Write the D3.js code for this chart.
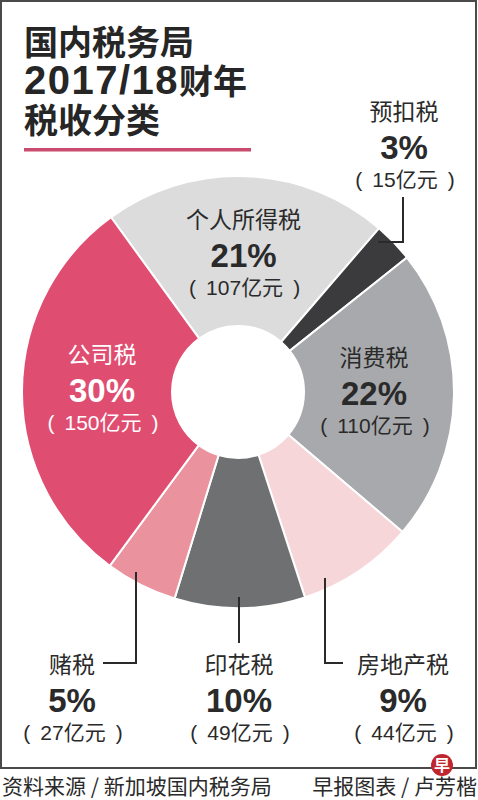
<!DOCTYPE html>
<html><head><meta charset="utf-8">
<script src="https://cdn.jsdelivr.net/npm/d3@7"></script>
<style>
html,body{margin:0;padding:0;background:#fff;}
svg{display:block;}
</style></head>
<body>
<svg id="chart" width="478" height="800"></svg>
<script>
// ---- data ----
const titleLines = [["国内税务局"], ["2017/18", "财年"], ["税收分类"]];
const categories = ["个人所得税", "预扣税", "消费税", "房地产税", "印花税", "赌税", "公司税"];
const percents = [21, 3, 22, 9, 10, 5, 30];
const amounts = [107, 15, 110, 44, 49, 27, 150];
const unitText = "亿元";
const sourceText = "资料来源 / 新加坡国内税务局";
const creditText = "早报图表 / 卢芳楷";

// ---- styles / layout ----
const colors = ["#dcdcdd", "#3b3b3d", "#a8a9ac", "#f6d6d9", "#6f7072", "#ea939e", "#df4d71"];
const textColors = ["#2a2a2a", "#2a2a2a", "#2a2a2a", "#2a2a2a", "#2a2a2a", "#2a2a2a", "#ffffff"];
// external label anchors (label centre x, name baseline y) and leader polylines
const external = {
  "预扣税": {x: 404, y: 120, line: [[403, 197], [403, 242], [378, 242]]},
  "房地产税": {x: 403, y: 673, line: [[325, 578], [325, 663], [343, 663]]},
  "印花税": {x: 239, y: 673, line: [[239, 597], [239, 643]]},
  "赌税": {x: 72, y: 673, line: [[136, 572], [136, 663], [103, 663]]}
};

const cx = 238, cy = 392, rOuter = 216, rInner = 66, rLabel = 136;
const start = -36 * Math.PI / 180;

const svg = d3.select("#chart");
const CJK = "'Noto Sans CJK SC', 'Noto Sans', sans-serif";
const LAT = "'Liberation Sans', Arial, 'Noto Sans CJK SC', sans-serif";

// frame
svg.append("rect").attr("x", 1).attr("y", 1).attr("width", 475).attr("height", 767)
  .attr("fill", "none").attr("stroke", "#4a4a4a").attr("stroke-width", 2);

// title
const tg = svg.append("g").attr("fill", "#262626").attr("font-weight", 700);
titleLines.forEach((parts, i) => {
  const t = tg.append("text").attr("x", 24).attr("y", 55 + i * 39);
  parts.forEach(p => {
    const isLatin = /^[0-9\/]+$/.test(p);
    t.append("tspan")
      .attr("font-family", isLatin ? LAT : CJK)
      .attr("font-size", isLatin ? 40 : 34)
      .attr("letter-spacing", isLatin ? 1.5 : 0)
      .text(p);
  });
});
svg.append("rect").attr("x", 24).attr("y", 148).attr("width", 227).attr("height", 3.5).attr("fill", "#c94b6e");

// pie
const rows = categories.map((c, i) => ({name: c, pct: percents[i], amt: amounts[i], color: colors[i], tc: textColors[i]}));
const pie = d3.pie().sort(null).value(d => d.amt).startAngle(start).endAngle(start + 2 * Math.PI);
const arcs = pie(rows);
const arc = d3.arc().innerRadius(rInner).outerRadius(rOuter);
const labelArc = d3.arc().innerRadius(rLabel).outerRadius(rLabel);

const g = svg.append("g").attr("transform", `translate(${cx},${cy})`);
g.selectAll("path").data(arcs).join("path")
  .attr("d", arc).attr("fill", d => d.data.color)
  .attr("stroke", "#fff").attr("stroke-width", 2);

// leader lines
const line = d3.line();
Object.values(external).forEach(e => {
  svg.append("path").attr("d", line(e.line)).attr("fill", "none")
    .attr("stroke", "#2a2a2a").attr("stroke-width", 2);
});

function drawLabel(x, y, d, color) {
  const lg = svg.append("g").attr("text-anchor", "middle").attr("fill", color);
  lg.append("text").attr("x", x).attr("y", y)
    .attr("font-family", CJK).attr("font-weight", 400).attr("font-size", 23).text(d.name);
  lg.append("text").attr("x", x).attr("y", y + 39)
    .attr("font-family", LAT).attr("font-weight", 700).attr("font-size", 33).text(d.pct + "%");
  const t = lg.append("text").attr("x", x + 1).attr("y", y + 67)
    .attr("font-family", LAT).attr("font-weight", 400).attr("font-size", 21);
  t.append("tspan").text("(");
  t.append("tspan").attr("dx", 10).text(d.amt);
  t.append("tspan").attr("font-family", CJK).text(unitText);
  t.append("tspan").attr("dx", 10).text(")");
}

arcs.forEach(a => {
  const e = external[a.data.name];
  if (e) {
    drawLabel(e.x, e.y, a.data, "#2a2a2a");
  } else {
    const [lx, ly] = labelArc.centroid(a);
    drawLabel(cx + lx, cy + ly - 28, a.data, a.data.tc);
  }
});

// footer
svg.append("text").attr("x", 2).attr("y", 794)
  .attr("font-family", CJK).attr("font-size", 21).attr("fill", "#2a2a2a").text(sourceText);
svg.append("text").attr("x", 477).attr("y", 794).attr("text-anchor", "end")
  .attr("font-family", CJK).attr("font-size", 21).attr("fill", "#2a2a2a").text(creditText);
// logo
svg.append("circle").attr("cx", 442).attr("cy", 765).attr("r", 11).attr("fill", "#c0262f");
svg.append("text").attr("x", 442).attr("y", 771).attr("text-anchor", "middle")
  .attr("font-family", CJK).attr("font-weight", 700).attr("font-size", 16).attr("fill", "#fff").text("早");
</script>
</body></html>
